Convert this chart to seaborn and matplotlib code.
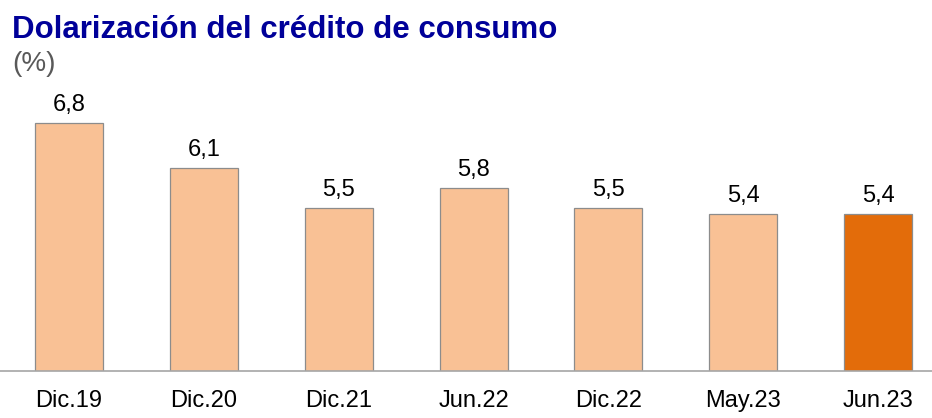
import matplotlib
matplotlib.use('Agg')
import matplotlib.pyplot as plt
import seaborn as sns
import pandas as pd

# data
periodos = ['Dic.19', 'Dic.20', 'Dic.21', 'Jun.22', 'Dic.22', 'May.23', 'Jun.23']
valores = [6.8, 6.1, 5.5, 5.8, 5.5, 5.4, 5.4]
grupo = ['hist', 'hist', 'hist', 'hist', 'hist', 'hist', 'ult']

sns.set_style('white')
plt.rcParams['font.family'] = ['Liberation Sans', 'DejaVu Sans']

df = pd.DataFrame({'periodo': periodos, 'valor': valores, 'grupo': grupo})

fig = plt.figure(figsize=(9.32, 4.18), dpi=100)
ax = fig.add_axes([0.0, 0.1124, 1.0, 0.6962])

sns.barplot(data=df, x='periodo', y='valor', hue='grupo',
            palette={'hist': '#F9C195', 'ult': '#E36C0A'},
            width=0.504, dodge=False, legend=False,
            edgecolor='#8C8C8C', linewidth=0.9, saturation=1, ax=ax)

for cont in ax.containers:
    ax.bar_label(cont, labels=[f'{v:.1f}'.replace('.', ',') for v in cont.datavalues],
                 padding=5, fontsize=17, color='black')

ax.set_ylim(3, 7.45)
ax.set_xlim(-0.512, 6.40)
ax.set_xlabel('')
ax.set_ylabel('')
ax.set_yticks([])
for s in ['top', 'right', 'left']:
    ax.spines[s].set_visible(False)
ax.spines['bottom'].set_color('#A6A6A6')
ax.spines['bottom'].set_linewidth(1.2)
ax.tick_params(axis='x', length=0, pad=14, labelsize=17, colors='black')

fig.text(0.013, 0.91, 'Dolarización del crédito de consumo', fontsize=22.5,
         fontweight='bold', color='#000099', ha='left', va='baseline')
fig.text(0.013, 0.83, '(%)', fontsize=20, color='#595959', ha='left', va='baseline')

fig.savefig('out.png', dpi=100)
